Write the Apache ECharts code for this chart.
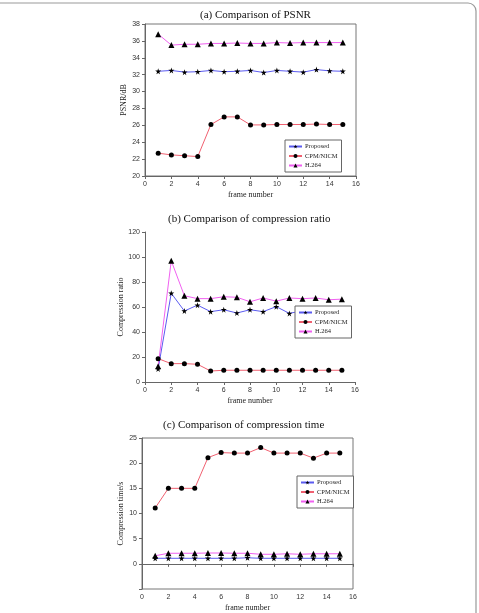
<!DOCTYPE html>
<html>
<head>
<meta charset="utf-8">
<script src="https://cdn.jsdelivr.net/npm/echarts@6/dist/echarts.min.js"></script>
<style>
  html, body { margin: 0; padding: 0; background: #fff; }
  #main { width: 479px; height: 613px; }
</style>
</head>
<body>
<div id="main"></div>
<script>
var frames = [1, 2, 3, 4, 5, 6, 7, 8, 9, 10, 11, 12, 13, 14, 15];

// (a) PSNR
var psnrProposed = [32.4, 32.5, 32.3, 32.35, 32.5, 32.35, 32.4, 32.5, 32.25, 32.5, 32.4, 32.3, 32.6, 32.45, 32.4];
var psnrCpm = [22.7, 22.5, 22.4, 22.3, 26.1, 27.0, 27.0, 26.05, 26.05, 26.1, 26.1, 26.1, 26.15, 26.1, 26.1];
var psnrH264 = [36.8, 35.5, 35.6, 35.6, 35.7, 35.7, 35.75, 35.7, 35.7, 35.8, 35.75, 35.8, 35.8, 35.8, 35.8];

// (b) compression ratio
var ratioProposed = [10.4, 71, 56.8, 61.5, 56.3, 57.8, 55.2, 57.8, 56.3, 60.3, 54.9, 57, 58, 56, 57];
var ratioCpm = [18.7, 14.7, 14.7, 14.2, 8.8, 9.4, 9.4, 9.4, 9.4, 9.4, 9.4, 9.4, 9.4, 9.4, 9.4];
var ratioH264 = [12.6, 97, 69, 66.7, 66.7, 68.2, 67.8, 64.2, 67.2, 64.7, 67.2, 66.7, 67.2, 65.8, 66.3];

// (c) compression time
var timeProposed = [1.1, 1.1, 1.1, 1.1, 1.1, 1.1, 1.1, 1.2, 1.1, 1.1, 1.1, 1.1, 1.1, 1.1, 1.1];
var timeCpm = [11.1, 15, 15, 15, 21.1, 22.1, 22, 22, 23.1, 22, 22, 22, 21, 22, 22];
var timeH264 = [1.6, 2.1, 2.1, 2.1, 2.15, 2.15, 2.1, 2.1, 1.9, 1.9, 2.0, 1.9, 2.0, 2.0, 2.0];

var titles = ['(a) Comparison of PSNR', '(b) Comparison of compression ratio', '(c) Comparison of compression time'];
var yNames = ['PSNR/dB', 'Compression ratio', 'Compression time/s'];
var names = ['Proposed', 'CPM/NICM', 'H.264'];

var colors = ['#5b5bf0', '#f06070', '#f060f0'];
var starPath = 'path://M50,0 L61,35 L98,35 L68,57 L79,91 L50,70 L21,91 L32,57 L2,35 L39,35 Z';
var symbols = [starPath, 'circle', 'triangle'];
var symbolSizes = [6, 5, 6];

var serif = 'Liberation Serif';
var sans = 'Liberation Sans';

function pairs(ys) {
    return frames.map(function (x, i) { return [x, ys[i]]; });
}

var panelData = [
    [psnrProposed, psnrCpm, psnrH264],
    [ratioProposed, ratioCpm, ratioH264],
    [timeProposed, timeCpm, timeH264]
];

var grids = [
    { left: 145, top: 24, width: 211, height: 152, show: true, borderColor: '#777', borderWidth: 1 },
    { left: 145, top: 232, width: 210, height: 150 },
    { left: 142, top: 438, width: 211, height: 153, show: true, borderColor: '#777', borderWidth: 1 }
];
var yRanges = [[20, 38, 2], [0, 120, 20], [-5, 25, 5]];

var xAxes = [], yAxes = [], series = [];
for (var g = 0; g < 3; g++) {
    xAxes.push({
        gridIndex: g, type: 'value', min: 0, max: 16, interval: 2,
        name: 'frame number', nameLocation: 'middle', nameGap: 15,
        nameTextStyle: { fontFamily: serif, fontSize: 8, color: '#222' },
        axisLine: { lineStyle: { color: '#666' } },
        axisTick: { length: 3, lineStyle: { color: '#666' } },
        axisLabel: { fontFamily: sans, fontSize: 7, color: '#333', margin: 5 },
        splitLine: { show: false }
    });
    yAxes.push({
        gridIndex: g, type: 'value', min: yRanges[g][0], max: yRanges[g][1], interval: yRanges[g][2],
        name: yNames[g], nameLocation: 'middle', nameGap: 16,
        nameTextStyle: { fontFamily: serif, fontSize: 8, color: '#222' },
        axisLine: { show: true, lineStyle: { color: '#666' } },
        axisTick: { show: true, length: 3, lineStyle: { color: '#666' } },
        axisLabel: {
            fontFamily: sans, fontSize: 7, color: '#333', margin: 5,
            formatter: function (v) { return v < 0 ? '' : v; }
        },
        splitLine: { show: false }
    });
    for (var s = 0; s < 3; s++) {
        series.push({
            name: names[s], type: 'line', xAxisIndex: g, yAxisIndex: g,
            data: pairs(panelData[g][s]),
            symbol: symbols[s], symbolSize: symbolSizes[s],
            itemStyle: { color: '#000' },
            lineStyle: { color: colors[s], width: 1 },
            animation: false
        });
    }
}

var legendPos = [
    { left: 285, top: 140 },
    { left: 295, top: 306 },
    { left: 297, top: 476 }
];
var legends = legendPos.map(function (p) {
    return {
        data: names, orient: 'vertical', left: p.left, top: p.top,
        itemWidth: 13, itemHeight: 5, itemGap: 2.5, padding: [3, 4, 3, 3],
        backgroundColor: '#fff', borderColor: '#666', borderWidth: 1,
        textStyle: { fontFamily: serif, fontSize: 6.5, color: '#222', padding: [0, 0, 0, -2] },
        selectedMode: false
    };
});

var titleOpts = [
    { text: titles[0], left: 200, top: 10 },
    { text: titles[1], left: 168, top: 214 },
    { text: titles[2], left: 163, top: 420 }
].map(function (t) {
    t.padding = 0;
    t.textStyle = { fontFamily: serif, fontSize: 11, fontWeight: 'normal', color: '#111' };
    return t;
});

var chart = echarts.init(document.getElementById('main'));
chart.setOption({
    animation: false,
    title: titleOpts,
    grid: grids,
    xAxis: xAxes,
    yAxis: yAxes,
    legend: legends,
    series: series,
    graphic: [{
        type: 'rect', silent: true,
        shape: { x: -10, y: 3, width: 486, height: 700, r: 8 },
        style: { fill: 'none', stroke: '#999', lineWidth: 1.2 }
    }]
});
</script>
</body>
</html>
